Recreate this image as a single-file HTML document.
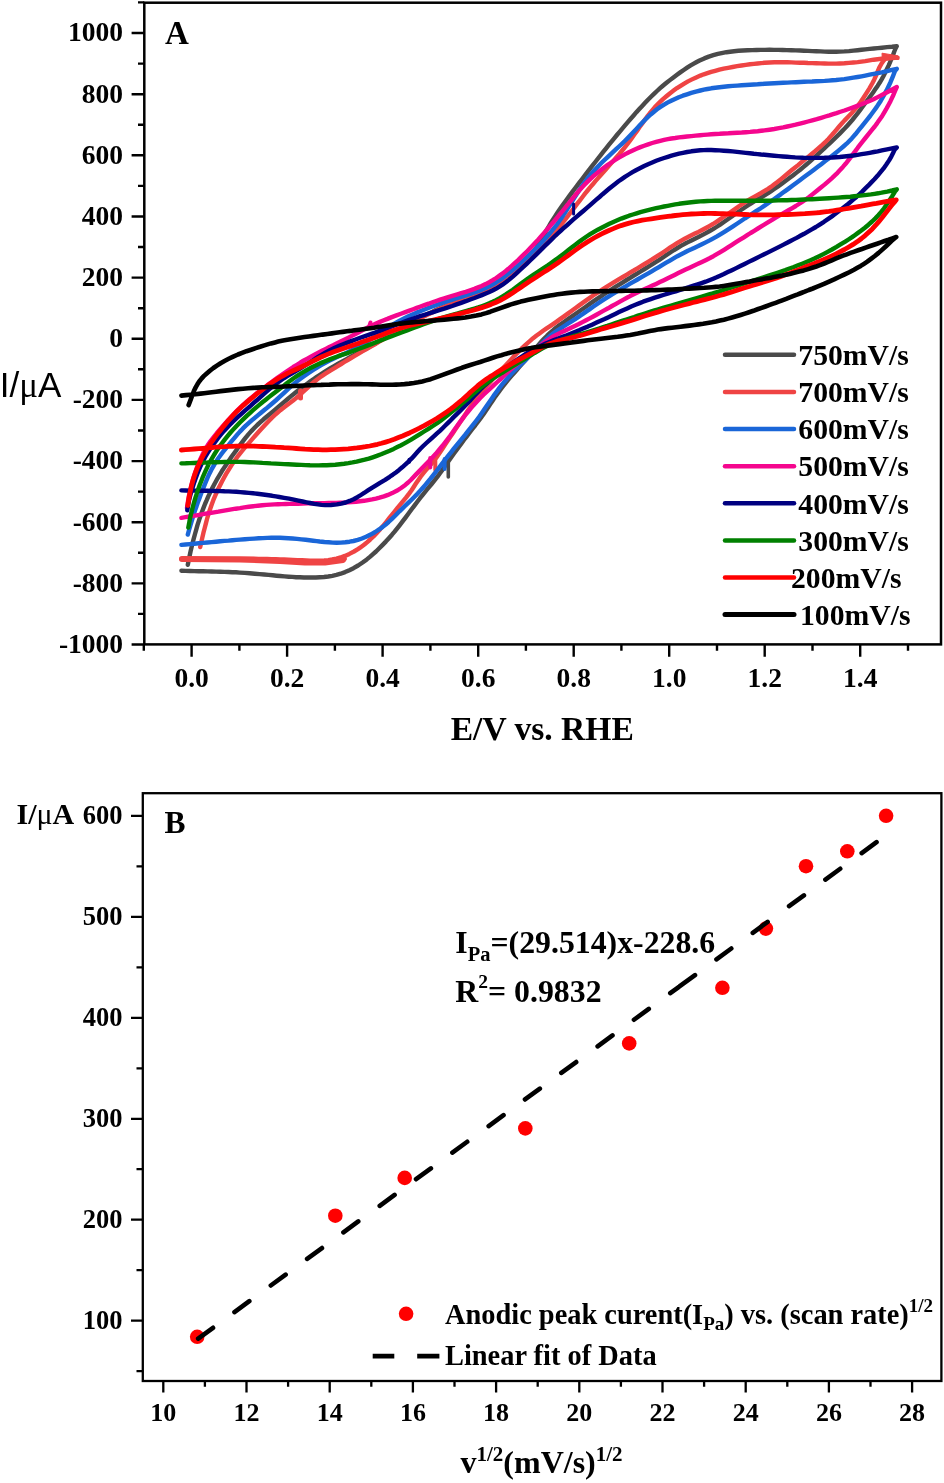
<!DOCTYPE html><html><head><meta charset="utf-8"><style>html,body{margin:0;padding:0;background:#fff;}svg{display:block;will-change:transform;}text{font-family:"Liberation Serif",serif;font-weight:bold;fill:#000;}</style></head><body>
<svg width="944" height="1483" viewBox="0 0 944 1483">
<rect width="944" height="1483" fill="#fff"/>
<g fill="none" stroke-linecap="round" stroke-linejoin="round">
<path d="M187.8 564.8L188.7 560.3L189.6 556L190.6 551.2L191.8 546.2L192.7 542.5L193.8 538.4L195 534L196.3 529.4L197.6 524.7L199 520.3L200.5 516.1L201.9 512L203.5 507.9L205 504L206.7 500.2L208.3 496.4L210.1 492.6L211.9 488.9L213.8 485.3L215.7 481.8L217.6 478.3L219.7 474.8L221.8 471.3L224.2 467.6L226.7 463.9L229.2 460.2L231.7 456.6L234.3 453L236.8 449.6L239.6 445.6L242.6 441.7L245.5 437.9L248.4 434.4L251.3 431.1L254.3 428L257.3 425L260.4 422.2L263.6 419.3L266.9 416.5L270.3 413.7L273.7 410.8L276.9 408.1L279.8 405.6L284 402.1L288 398.7L290.8 396.4L293.8 394L296.8 391.5L300 389L304.3 385.8L308.9 382.4L313.7 379.1L316.8 376.9L320 374.8L323.4 372.6L326.9 370.4L330.5 368.2L334.1 366.1L338.2 363.7L342.4 361.4L346.6 359.1L350.8 356.8L355.1 354.5L359 352.4L363 350.2L367.1 348L371.2 345.8L375.3 343.5L379.2 341.2L382.8 339L386.3 336.8L389.7 334.6L393.1 332.5L396.5 330.4L399.9 328.4L403.9 326.2L407.8 324.1L411.8 322L415.8 320L419.9 318L423.8 316L427.7 314.1L431.7 312.1L435.8 310.1L440.2 308.1L444.7 306.2L448.5 304.7L452.5 303.2L456.7 301.7L461.2 300.2L465.8 298.6L470.2 297.1L474.4 295.6L478.2 294.1L481.7 292.6L485.7 290.8L489.2 289L492.6 287.2L496 285.2L499.7 282.8L502.8 280.7L506 278.4L509.4 275.9L512.9 273.1L516.5 270L520.1 266.7L523.7 263.3L527 259.7L530.1 256.2L532.3 253.4L534.4 250.5L536.5 247.4L538.5 244.3L540.5 241L542.5 237.5L544.5 234L546.5 230.4L548.6 226.8L550.7 223.2L552.9 219.6L555.2 216.1L557.4 212.8L559.6 209.5L562 206.1L564.4 202.7L566.9 199.3L569.4 195.9L572 192.4L574.5 189L577.1 185.6L579.7 182.1L582.3 178.8L584.9 175.4L587.4 172.1L589.9 168.9L592.6 165.4L595.3 162L598 158.5L600.7 155.1L603.4 151.7L606.1 148.3L608.8 144.9L611.5 141.6L614.2 138.3L616.9 135L619.6 131.8L622.3 128.6L625 125.4L627.8 122.1L630.7 118.8L633.6 115.5L636.4 112.2L639.3 109L642.2 105.9L645.1 102.8L648 99.7L651 96.7L654 93.8L657 91L660.1 88.2L663.2 85.5L666.5 82.8L669.9 80.1L673.4 77.4L677 74.7L680.6 72.1L684.1 69.7L687.5 67.4L690.7 65.4L693.8 63.6L696.7 62L699.6 60.5L704.3 58.4L708.8 56.6L713.3 55.2L717.9 53.9L722.8 52.8L726.4 52.2L730.1 51.7L734.1 51.2L738.4 50.8L742.9 50.5L747.5 50.3L752.1 50.1L756.6 50L760.9 49.9L765 49.9L769.5 49.8L774 49.9L778.3 49.9L782.6 50L786.9 50.1L791.3 50.2L795.7 50.4L800.2 50.5L804.1 50.7L808.1 50.9L812.2 51.1L816.3 51.2L820.5 51.4L824.7 51.6L828.7 51.7L832.4 51.7L836.1 51.7L839.7 51.6L844.4 51.4L849 51.1L853.5 50.6L857.6 50.2L861.5 49.8L865.3 49.4L869.7 48.9L873.8 48.5L877.7 48.1L881.9 47.7L887.1 47.1L892 46.7L896.8 46.2L896 47.5L895.4 48.8L894.2 51.8L892.8 55.8L891 60L888.7 65.4L886 71L883.4 76.2L881.5 79.6L879.6 82.8L877.6 85.9L875.4 89.1L873.1 92.4L870.7 95.7L868.1 99.2L865.5 102.7L863.1 106L860.6 109.4L858 112.8L855.2 116.4L852.3 120L849.9 122.8L847.5 125.5L844.9 128.3L842.1 131.1L839.2 134.1L836.1 137.1L833 140.1L829.9 143.1L827.1 145.7L824.3 148.3L821.5 151L818.6 153.7L815.6 156.4L812.5 159.2L809.5 161.9L806.4 164.5L803.3 167.1L800.2 169.7L796.8 172.4L793.2 175.2L789.4 178.1L785.4 181.1L781.5 183.9L777.7 186.6L774.2 189L771.1 191.1L768.1 193.1L765.3 194.8L760.3 197.9L755.8 200.5L750.8 203.6L748.2 205.2L745.5 207L742.5 209L739.3 211.2L735.6 213.8L731.8 216.5L727.8 219.3L723.9 222L720.1 224.6L716.4 227L713 229.1L709.7 231L705.9 233.1L702.1 235.1L698.4 237L694.9 238.7L691.4 240.4L688 242.1L684.7 243.8L681.3 245.7L677.4 248L673.6 250.3L669.9 252.8L666.2 255.2L662.5 257.7L658.9 260.1L655.2 262.4L651.7 264.7L648.1 266.9L644.6 269L641.1 271.2L637.5 273.3L633.8 275.5L630.1 277.8L626.5 280L622.9 282.3L619.2 284.6L615.4 286.9L611.7 289.3L608 291.6L604.4 294L600.9 296.3L597.1 298.9L593.4 301.4L589.8 303.9L586.2 306.5L582.6 309L579 311.5L575.4 314L571.7 316.6L568 319.1L564.3 321.7L560.6 324.3L557 327L553.6 329.8L550.3 332.7L547.1 335.7L544 338.8L541 342.1L538.1 345.4L535.2 348.7L532.4 352L529.7 355.1L527 358.2L524.4 361.2L521.9 364L519.4 366.8L516.9 369.7L514.3 372.7L511.3 376.1L508.3 379.7L505.3 383.4L502.3 387.2L499.5 390.9L496.9 394.5L494.5 397.8L492.4 401L490.3 404.1L488.2 407.3L486 410.5L483.7 413.9L481 417.6L478.2 421.4L475.3 425.3L472.2 429.2L469.3 433L466.4 436.8L463.9 440L461.6 443.2L459.2 446.4L456.8 449.6L454.5 452.7L452.2 455.9L449.9 459.1L447.3 462.8L444.7 466.6L442.2 470.2L439.8 473.5L437.5 476.6L435.3 479.4L431.6 484L427.7 488.7L425.3 491.6L422.7 494.8L420 498.2L417.3 501.8L414.6 505.3L412 508.8L408.7 513.2L405.5 517.6L402.4 521.7L399.6 525.3L397 528.6L394.6 531.6L392 534.7L389.1 538L385.8 541.6L382.4 545.1L379 548.5L376 551.5L373 554.2L369.9 556.9L366.8 559.4L362.6 562.5L358.1 565.5L353.5 568.2L349.4 570.2L345.1 572.1L340.7 573.7L336.4 574.9L332.3 575.8L328.2 576.5L324 577L319.7 577.3L315.9 577.5L312 577.5L307.9 577.5L303.9 577.5L299.9 577.3L296.1 577.2L292.4 576.9L288.7 576.7L284.6 576.4L280.2 576L276.5 575.7L272.6 575.3L268.5 574.9L264.2 574.5L259.6 574.1L254.8 573.7L249.7 573.2L244.7 572.9L239.7 572.6L236 572.3L232.3 572.2L228.5 572L224.5 571.9L220.3 571.7L216.1 571.6L211.7 571.5L207.4 571.4L203 571.3L198.8 571.2L194.3 571.1L189.9 571L185.6 570.9L181.4 570.8" stroke="#4a4a4a" stroke-width="4.4"/>
<path d="M448.3 459L448.3 477" stroke="#4a4a4a" stroke-width="3.6"/>
<path d="M200.2 547L201.2 542.4L202.3 537.7L203.4 532.9L204.7 528L205.9 523.4L206.9 519.5L208 515.7L209.2 511.8L210.5 508L211.9 504.1L213.3 500.2L214.9 496.3L216.6 492.5L218.3 488.7L220.2 484.9L222.1 481.2L224.1 477.5L226.1 473.9L228.3 470.3L230.5 466.8L232.7 463.4L235 460.2L237.1 457.2L239.7 453.9L242.1 450.9L244.6 447.9L247.2 444.9L250.1 441.6L253.1 438.1L256.1 434.7L259.2 431.2L262.4 427.7L265.7 424.2L268.8 420.9L271.8 417.9L276 414L280.4 410.2L284.2 407.2L288.5 404L292.8 400.8L296.4 397.9L299.3 395.3L301.9 393L304.7 390.4L307.5 387.8L310.5 384.9L313.9 382L317.4 379.2L321.4 376.3L325.8 373.4L330.3 370.6L334.9 367.9L338.1 365.9L341.2 364L344.4 362L347.7 360L351.1 358L354.7 355.9L358.6 353.6L362.7 351.2L367 348.8L371.2 346.4L375.3 344L379.2 341.7L382.8 339.5L386.3 337.3L389.7 335.1L393.1 332.9L396.5 330.9L399.9 328.9L403.9 326.7L407.8 324.6L411.8 322.5L415.8 320.5L420 318.5L423.8 316.6L427.7 314.6L431.6 312.7L435.8 310.7L440.2 308.6L444.6 306.7L448.4 305.1L452.4 303.5L456.7 301.9L461.2 300.2L465.8 298.5L470.3 296.8L474.4 295.2L478.3 293.7L481.8 292.2L485.8 290.4L489.3 288.7L492.6 287L495.9 285.1L499.5 282.9L502.6 280.7L505.9 278.3L509.3 275.6L512.8 272.7L516.4 269.5L520 266.2L523.6 263L526.9 259.8L530.2 256.8L533.4 253.8L536.5 250.9L539.5 248L542.4 245L545.5 242L548.7 238.7L551.9 235.2L555.2 231.5L557.5 228.8L559.8 226.1L562.1 223.3L564.5 220.3L567 217.1L569.5 213.9L572.1 210.5L574.7 207.1L577.3 203.7L579.9 200.3L582.5 197L585 193.7L587.6 190.5L590.1 187.4L592.8 184.3L595.4 181.1L598.1 178.1L600.8 175L603.5 172L606.2 169L608.9 165.9L611.5 162.9L614.2 159.9L616.9 156.8L619.6 153.7L622.2 150.5L624.8 147.3L627.3 144.1L629.8 140.9L632.3 137.5L634.7 134.1L637.2 130.6L639.6 127.1L642.1 123.6L644.6 120.1L647.1 116.7L649.6 113.5L652.2 110.4L654.7 107.4L657.4 104.6L660.1 101.9L663.3 98.9L666.7 96L670.1 93.2L673.6 90.6L677 88.1L680.6 85.8L684.2 83.6L688 81.4L692 79.4L696.2 77.4L700.4 75.6L703.8 74.3L707.4 73.1L711.2 71.9L715.2 70.8L719.4 69.7L723.7 68.7L728.1 67.8L732.6 67L737.1 66.2L741.5 65.5L745.8 64.9L750 64.3L753.9 63.9L757.6 63.5L761.2 63.1L764.6 62.8L769.6 62.5L774.4 62.3L778.9 62.2L783.2 62.3L787.3 62.3L791.4 62.4L795.7 62.6L800.1 62.7L804 62.8L808 63L812.1 63.1L816.3 63.2L820.5 63.4L824.7 63.5L828.6 63.6L832.4 63.6L836.1 63.6L839.7 63.5L844.4 63.3L849 62.9L853.4 62.5L857.6 62.1L861.5 61.6L865.2 61.1L869.6 60.4L873.7 59.7L877.6 59.2L881.7 58.6L887.2 58L892.6 57.8L897.6 57.8L893.3 57.6L888.4 57.6L885.2 58.8L883.5 60.8L881.6 63.5L879.4 67.4L877.5 71.9L875.9 75.9L874.2 79.7L872.2 83.5L869.6 88.1L866.6 92.9L863.5 97.7L860.8 101.7L858 105.5L855.1 109.1L852.3 112.4L848.4 116.5L844.4 120.6L841.8 123.5L838.9 126.8L835.7 130.6L832.1 134.8L828.4 138.9L826.1 141.3L823.6 143.6L821 146L818 148.6L814.8 151.4L811.4 154.2L807.9 157.1L804.5 159.8L801.2 162.5L798.1 165.1L795.1 167.5L792.2 169.8L788.6 172.8L784.8 176L781 179.1L777.4 182L774 184.6L770.9 186.9L768 188.9L765 190.7L760.3 193.5L755.9 195.9L750.9 198.7L748.3 200.2L745.6 201.9L742.6 203.8L739.3 206L735.7 208.6L731.8 211.3L727.8 214.1L723.9 216.8L720 219.4L716.4 221.8L713 224L709.7 225.9L705.9 228L702.1 230L698.4 231.9L694.9 233.6L691.4 235.3L688 237L684.7 238.7L681.3 240.6L677.4 242.9L673.6 245.3L669.9 247.7L666.2 250.2L662.5 252.7L658.8 255.1L655.2 257.4L651.7 259.7L648.1 261.9L644.6 264L641 266.2L637.4 268.3L633.8 270.5L630 272.7L626.5 274.8L622.8 277L619.1 279.1L615.4 281.4L611.7 283.6L608.1 285.8L604.5 288.1L601 290.3L597.2 292.8L593.5 295.3L589.8 297.9L586.2 300.4L582.7 302.9L579.2 305.4L575.6 308L571.8 310.7L567.8 313.6L563.7 316.6L559.7 319.4L556 322.1L552.7 324.4L549.7 326.4L546.2 328.7L543.1 330.8L539.8 333.2L536.6 335.5L533.1 338.2L529.5 341.3L525.8 344.6L522.3 347.9L519.5 350.7L516.6 353.6L513.8 356.5L511.1 359.4L508.3 362.4L505.5 365.4L502.4 368.7L499.3 372L496.2 375.3L493.2 378.6L490.2 382L487.1 385.4L484.1 389L481.1 392.6L478.1 396.4L475.1 400.3L472.7 403.6L470.2 407.2L467.7 410.8L465.2 414.6L462.8 418.3L460.4 421.9L458.1 425.3L455.4 429.3L452.8 433.2L450.2 437L447.7 440.7L445.3 444.4L443.1 447.7L440.9 451L438.7 454.2L436.5 457.4L434.1 460.5L431.4 463.8L428.6 467.1L425.7 470.4L423 473.6L420.6 476.7L418.2 480.2L415.9 483.6L413.7 487L411.4 490.5L408.9 493.9L406.2 497.4L403.3 500.9L400.2 504.6L397.5 507.8L394.8 511.3L391.9 514.9L389 518.5L386.2 522L383.5 525.3L380.2 529.2L376.8 532.9L373.5 536.4L370.2 539.5L367.3 542.1L364.4 544.5L361.4 546.7L358.3 548.9L354 551.5L349.4 553.9L344.9 555.9L340.6 557.5L336.4 558.6L332.1 559.5L328.2 560.1L324.2 560.5L319.7 560.7L316.8 560.8L313.6 560.8L310.1 560.7L306.1 560.5L301.9 560.3L297.4 560.1L292.8 559.9L288.4 559.7L284.1 559.5L280 559.4L275.7 559.2L271.4 559.1L267.1 559L262.9 558.9L258.6 558.9L254.2 558.8L249.6 558.8L244.8 558.7L239.9 558.7L236.1 558.7L232.4 558.7L228.5 558.7L224.5 558.7L220.3 558.7L216 558.7L211.7 558.7L207.4 558.8L203 558.8L198.8 558.8L194.3 558.8L189.9 558.9L185.6 558.9L181.4 558.9" stroke="#ef4444" stroke-width="4.4"/>
<path d="M435.3 459L435.3 470" stroke="#ef4444" stroke-width="4.0"/>
<path d="M300.5 391L300.5 398" stroke="#ef4444" stroke-width="5.0"/>
<path d="M182 558.9L240 559.5L280 561L305 562.5L325 562.5L343 560" stroke="#ef4444" stroke-width="6.0"/>
<path d="M337 559.5L345 558.8" stroke="#ef4444" stroke-width="4.0"/>
<path d="M187.8 534.6L188.9 530.5L190.1 526.4L191.3 522.3L192.6 518L193.9 514L195.1 510.2L196.5 506.4L197.8 502.5L199.3 498.6L200.8 494.6L202.3 490.6L204 486.4L205.7 482.2L207.5 477.9L209.4 473.7L211.4 469.7L213.6 465.8L215.8 462L218.3 458.3L220.9 454.7L223.6 451.2L226.3 447.8L228.9 444.5L231.7 441.1L234.5 437.8L237.2 434.6L239.9 431.6L242.7 428.7L245.8 425.7L248.9 422.9L252 420.2L255.1 417.6L258.1 415.1L261 412.7L264 410.3L267 407.9L271.3 404.3L275.7 400.5L279.9 396.7L284.4 392.6L288.5 388.7L291.2 386.2L294 383.8L297 381.4L300.1 379L304.3 376L308.7 373L313.2 370L317.4 367.3L321.6 364.8L326.3 362.2L329.6 360.5L333.4 358.7L337.5 356.8L342.1 354.8L346.7 352.7L351.2 350.5L355.4 348.5L358.9 346.5L362.4 344.5L365.7 342.5L369 340.4L372.3 338.3L375.6 336.2L378.8 334L382.4 331.6L386 329.2L389.6 326.8L393.1 324.5L396.6 322.4L400.1 320.4L404 318.4L407.9 316.5L411.9 314.7L415.9 312.9L420.1 311.2L423.9 309.7L427.7 308.2L431.6 306.7L435.8 305.2L440.1 303.7L444.5 302.1L448.3 300.9L452.4 299.6L456.7 298.2L461.2 296.8L465.8 295.4L470.2 294L474.4 292.5L478.2 291.1L481.7 289.7L485.7 288L489.2 286.3L492.5 284.5L495.9 282.5L499.6 280.2L502.7 278.1L505.9 275.6L509.3 272.9L512.8 270L516.5 266.8L520.1 263.5L523.7 260.1L527.1 256.9L530.4 253.8L533.2 251L535.9 248.3L538.6 245.6L541.2 243L543.8 240.2L546.4 237.2L549.2 234.1L552 230.7L554.8 227.2L557.1 224.3L559.2 221.2L561.5 218L563.7 214.6L566 211L568.4 207.3L570.8 203.5L573.2 199.6L575.6 195.8L578.1 192L580.5 188.3L582.9 184.7L585.4 181.3L587.8 178.1L590.3 175L593 171.8L595.9 168.7L598.7 165.7L601.6 162.8L604.5 160L607.4 157.3L610.3 154.6L613.2 151.9L616.1 149.2L619 146.5L621.9 143.8L624.8 141L627.7 138.1L630.6 135.1L633.5 132L636.4 128.9L639.3 125.8L642.2 122.8L645.1 119.8L648 116.9L651 114.2L654 111.7L657 109.3L660.1 107.1L663.7 104.8L667.4 102.6L671.2 100.7L675 98.9L678.8 97.2L682.8 95.7L687 94.3L691.3 92.9L695.9 91.6L700.4 90.5L703.9 89.7L707.5 89L711.3 88.3L715.3 87.7L719.5 87.2L723.8 86.7L728.2 86.3L732.7 85.9L737.2 85.6L741.6 85.3L745.9 85L750 84.7L753.9 84.5L757.6 84.3L761.1 84L764.6 83.8L769.5 83.5L774.4 83.2L778.9 83L783.2 82.8L787.3 82.6L791.4 82.4L795.7 82.2L800.1 82L804 81.8L808 81.6L812.1 81.5L816.3 81.3L820.5 81.1L824.7 80.9L828.6 80.6L832.4 80.3L836.1 80L839.6 79.6L844.3 79.1L849 78.4L853.4 77.7L857.6 77L861.5 76.3L865.3 75.6L869.7 74.7L873.8 73.9L877.7 73.1L881.8 72.3L887.1 71.1L892 69.9L896.8 68.8L895.5 70.3L894.8 71.5L893 76.1L890.5 82.2L888.6 86.3L886.6 90.4L884.5 94.3L882.7 97.5L880.8 100.7L878.8 103.8L876.6 107.1L873.4 111.5L870.1 116L866.8 120.1L864 123.6L861.4 126.9L858.7 130.2L855.4 134.3L851.8 138.4L849.3 141L846.6 143.7L843.4 146.5L839.7 149.6L837.3 151.6L834.7 153.7L831.9 155.9L828.7 158.4L825.2 161.1L821.6 163.9L817.8 166.8L814 169.7L810.3 172.5L806.8 175.1L803.4 177.6L800.2 180L796.5 182.7L792.7 185.6L788.6 188.6L784.4 191.6L780.4 194.6L776.6 197.3L773.2 199.7L770.2 201.8L767.4 203.7L764.9 205.4L760.6 208.3L756.1 211.1L753.9 212.6L751.3 214.3L748.4 216.2L745.1 218.3L741.4 220.8L737.3 223.5L733 226.3L728.7 229.1L724.4 231.8L720.3 234.3L716.5 236.6L712.9 238.6L709.6 240.4L705.7 242.4L701.9 244.3L698.2 246.1L694.7 247.7L691.3 249.3L687.9 250.8L684.6 252.5L681.2 254.2L677.4 256.2L673.6 258.4L669.9 260.6L666.2 262.7L662.5 264.9L658.9 267.1L655.3 269.2L651.7 271.3L648.2 273.4L644.6 275.4L641.1 277.4L637.5 279.5L633.8 281.6L630.1 283.7L626.5 285.8L622.9 287.9L619.2 290.1L615.4 292.4L611.7 294.6L608.1 296.9L604.5 299.2L601 301.4L597.2 304L593.5 306.5L589.8 309.1L586.1 311.6L582.5 314.2L578.9 316.6L575.2 319.1L571.6 321.4L567.9 323.7L564.3 326L560.7 328.3L557.2 330.6L553.8 333L550.6 335.5L547 338.6L543.5 341.9L540.1 345.4L536.9 348.8L533.7 352.1L530.5 355.2L527.2 358.5L523.9 361.6L520.6 364.6L517.3 367.8L514 371L511.1 374L508.3 377.2L505.5 380.5L502.6 383.9L499.8 387.4L497.1 391.1L494.5 394.6L492 398.2L489.4 402L486.8 405.8L484.2 409.6L481.7 413.2L479.2 416.8L476.4 420.5L473.6 424.1L470.8 427.7L468 431.1L465.3 434.6L462.4 438.1L459.6 441.6L456.7 445.2L453.8 448.7L451 452.3L448.3 455.7L445.6 459.2L442.5 463.1L439.5 467.1L436.5 471L433.5 474.9L430.5 478.7L428 481.7L425.4 484.8L422.9 487.7L420.3 490.6L417.7 493.5L415 496.3L411.8 499.5L408.5 502.7L405.3 505.7L402.3 508.6L399.5 511.3L395.4 515.5L391.4 519.4L388.6 522L385.7 524.5L382.7 526.9L379.5 529.2L375.2 532L370.6 534.6L366.1 536.8L361.9 538.5L357.8 539.9L353.5 541L349.6 541.7L345.3 542.3L341 542.6L336.7 542.7L332.7 542.6L328.7 542.3L324.4 542L319.7 541.5L316.6 541.1L313.2 540.7L309.5 540.3L305.6 539.8L301.4 539.4L297 538.9L292.6 538.5L288.3 538.2L284.1 538L280.1 537.8L275.7 537.8L271.4 537.8L267.2 537.9L262.9 538.1L258.6 538.3L254.2 538.6L249.6 538.9L244.8 539.3L239.9 539.6L236.2 539.9L232.4 540.2L228.5 540.6L224.5 540.9L220.3 541.3L216 541.7L211.7 542.1L207.4 542.5L203 542.9L198.8 543.3L194.3 543.7L189.9 544.1L185.6 544.5L181.4 544.9" stroke="#1a66d8" stroke-width="4.4"/>
<path d="M444.6 459L444.6 469" stroke="#1a66d8" stroke-width="4.0"/>
<path d="M187 508L187.6 503.7L188.3 499.3L189.1 494.9L190.1 490.7L191 486.7L192.2 482.3L193.4 477.9L194.9 473.2L196.6 468.4L198.4 463.9L200.1 459.7L202 455.7L203.9 451.8L205.9 448.3L208.2 444.5L210.6 441L213.3 437.5L216.9 433L220.8 428.5L223.2 425.7L225.8 422.8L228.5 419.7L231.3 416.7L234 413.7L237.1 410.6L240.2 407.6L243.4 404.6L246.7 401.7L249.9 398.9L253.3 396.1L256.8 393.3L260.4 390.5L263.9 387.9L267.1 385.4L270.3 383.1L273.4 380.8L276.7 378.4L280 376L283.2 373.8L286.5 371.6L289.9 369.3L293.3 367L296.9 364.8L300.5 362.5L303.9 360.5L307.4 358.6L310.9 356.6L314.5 354.7L318.3 352.7L322 350.8L325.8 348.9L329.4 347L333.2 345.2L337.1 343.2L341.1 341.3L344.9 339.4L348.5 337.6L351.8 335.9L354.9 334.3L358.8 332.2L362.3 330.3L366 328.4L370.2 326.2L373 324.9L376 323.5L379.4 322.1L383.2 320.5L387.4 318.9L391.8 317.1L396.4 315.4L400.9 313.7L405.3 312.1L409.4 310.6L413.2 309.2L416.7 307.9L419.9 306.7L424.4 305.1L428.6 303.7L432.5 302.3L436.2 301L440.1 299.7L444.3 298.4L448.2 297.1L452.3 295.9L456.6 294.6L461.2 293.2L465.8 291.8L470.2 290.3L474.4 288.9L478.1 287.4L481.6 286L485.6 284.1L489.3 282.2L492.7 280.2L496.2 278L499.9 275.4L502.7 273.4L505.5 271.2L508.4 268.8L511.5 266.1L514.7 263.2L517.9 260.3L521.1 257.2L524.2 254.2L527.2 251.2L530 248.3L532.9 245.3L535.7 242.3L538.4 239.4L541 236.4L543.7 233.4L546.4 230.3L549.2 227L552.1 223.6L555 220.2L557.5 217.2L559.9 214.2L562.5 211.1L565.1 207.8L567.8 204.5L570.5 201L573.3 197.6L576.1 194.2L578.9 190.9L581.7 187.7L584.5 184.8L587.3 181.9L590 179.3L593.4 176.2L596.8 173.3L600.3 170.4L603.8 167.7L607.4 165.1L610.9 162.7L614.4 160.4L618 158.2L621.6 156.1L625.2 154.1L628.9 152.2L632.7 150.4L636.5 148.7L640.4 147.1L644.2 145.7L648.2 144.3L652.2 143L656.2 141.9L660.3 140.8L664.1 139.9L667.8 139.2L671.4 138.5L675.2 138L679 137.4L682.9 137L687 136.5L691.3 136.1L695.7 135.6L700.1 135.2L703.7 134.9L707.4 134.6L711.3 134.3L715.3 134L719.6 133.8L723.9 133.5L728.4 133.3L732.8 133L737.3 132.7L741.7 132.5L746 132.2L750.1 131.9L753.9 131.5L757.6 131.2L761.1 130.8L764.5 130.4L769.5 129.7L774.3 129L778.9 128.2L783.2 127.4L787.3 126.5L791.4 125.6L795.6 124.7L799.9 123.6L803.9 122.6L808 121.5L812.3 120.3L816.8 119.1L821.2 117.8L825.4 116.5L829.4 115.3L833.1 114.1L836.5 113.1L839.7 112L844.4 110.5L848.6 109L852.6 107.6L856.6 106.1L861 104.5L865.3 102.7L869.5 101L873.5 99.2L877.7 97.1L881.9 95L886.1 92.8L891.8 89.7L896.8 87L896 88.7L895.5 90L893.5 94.7L890.6 100.9L888.6 104.7L886.6 108.4L884.6 111.9L882.2 115.9L879.5 119.8L877.2 123.1L874.7 126.5L872.1 129.7L868.9 133.7L865.4 138L863.1 140.9L860.5 144.2L857.8 147.7L855.1 151.4L852.5 154.8L850.2 157.9L847.9 160.9L845.6 163.8L842.9 166.9L839.8 170.3L837.5 172.8L834.8 175.4L831.7 178.3L828.3 181.3L824.5 184.6L820.6 187.8L816.6 191L812.7 194.1L809.1 196.9L805.7 199.4L802.5 201.6L799.7 203.5L795.8 206L792.3 208.1L789 210L785.6 212L781.7 214.2L778.8 215.8L775.7 217.6L772.5 219.6L769.1 221.7L765.4 223.9L761.7 226.2L757.9 228.5L754.2 230.8L750.6 233L747.2 235.2L743.9 237.3L740 239.7L736 242.2L731.9 244.8L727.9 247.4L724.1 249.8L720.3 252.1L716.8 254.2L713.4 256.2L710 258L705.6 260.2L701.4 262.2L697.4 264.1L693.3 265.9L689.1 267.9L685.6 269.5L682 271.3L678.3 273.1L674.6 275L670.9 276.8L667.3 278.5L663.9 280.2L659.9 282.1L656.1 283.9L652.4 285.6L648.9 287.2L645.4 288.8L641.6 290.6L637.9 292.3L634.2 294.1L630.1 296.1L626.9 297.8L623.5 299.6L619.9 301.6L616 303.8L612 306L608.1 308.3L604.2 310.4L600.6 312.4L596.9 314.5L593.3 316.5L589.7 318.4L586.1 320.3L582.5 322.1L578.9 324L575.3 325.7L571.6 327.5L567.9 329.2L564.3 330.9L560.6 332.6L557.1 334.4L553.7 336.2L550.5 338.2L547 340.6L543.5 343.1L540.2 345.7L537 348.4L533.8 351L530.7 353.5L527.3 356.1L524.1 358.7L520.8 361.2L517.7 363.7L514.4 366.4L510.9 369.4L507.3 372.6L503.7 375.9L500.2 379.3L496.7 382.5L493.4 385.5L490.1 388.6L486.8 391.6L483.5 394.7L480.2 398L477.2 401.2L474.2 404.5L471.2 407.9L468.2 411.5L465.2 415.2L462.4 418.9L459.9 422.2L457.4 425.6L454.9 429L452.5 432.4L450.2 435.7L447.9 438.8L445.6 441.8L442.3 446L439 450L435.8 453.8L432.4 457.5L429.1 461L425.6 464.6L422.2 468.1L418.8 471.6L416.1 474.4L413.4 477.3L410.8 480L408.1 482.5L405.3 484.9L401.1 488L396.7 490.8L392.2 493.1L388 494.9L383.9 496.4L379.5 497.7L375.9 498.6L372.1 499.4L368.1 500.1L364 500.8L359.9 501.3L355.9 501.8L351.9 502.1L347.9 502.4L343.9 502.7L340 502.8L336.1 502.9L332.3 503L328.5 503L324.6 503.1L320.3 503.1L316.3 503.2L311.9 503.3L307.3 503.4L302.6 503.6L298 503.7L293.6 503.8L289.6 503.9L285.6 504L281.8 504.1L278.1 504.2L274.4 504.4L270.3 504.6L266.4 504.9L262.2 505.3L257.8 505.7L253.3 506.2L248.8 506.8L244.3 507.4L240 508.1L235.7 508.7L231.4 509.4L227.1 510.1L222.7 510.8L218.4 511.6L214.1 512.3L209.8 513L205.8 513.7L201.8 514.4L197.9 515.1L193.8 515.8L189.6 516.5L185.5 517.2L181.4 517.9" stroke="#f5068e" stroke-width="4.4"/>
<path d="M430.2 458L430.2 467.5" stroke="#f5068e" stroke-width="4.0"/>
<path d="M369.5 325.5L370.5 322.5" stroke="#f5068e" stroke-width="4.0"/>
<path d="M187.3 510.4L188.1 505.2L189.1 500L190.4 494.8L191.9 489.7L193.5 484.6L195.3 479.4L196.7 475.6L198.2 471.6L199.9 467.6L201.7 463.7L203.5 460.1L205.5 456.5L207.5 453.1L209.6 449.8L211.9 446.4L214.6 442.6L217.6 438.6L220.8 434.7L224 430.9L226.8 427.9L229.6 425L232.4 422.1L235.3 419.4L238.2 416.7L241.4 413.8L244.4 411.1L247.6 408.4L250.8 405.6L253.7 402.9L256.8 400.3L259.8 397.6L262.8 394.9L265.9 392.2L269.4 389.2L272.9 386.3L276.5 383.4L280.3 380.7L283.8 378.3L287.6 375.9L291.6 373.6L295.8 371.2L300 368.7L303.5 366.5L307 364.2L310.7 361.8L314.4 359.4L318.2 356.9L322 354.6L325.8 352.4L329.9 350.2L334.3 348.1L338.8 346.1L343.2 344.2L347.3 342.6L351.2 341.1L354.9 339.7L360.2 337.8L365.1 336.1L370.7 334.1L373.5 333.2L376.4 332.1L379.7 330.9L383.3 329.6L387.4 328.1L391.8 326.4L396.4 324.7L400.9 323L405.3 321.4L409.4 319.9L413.2 318.5L416.7 317.3L420 316.2L424.5 314.8L428.6 313.5L432.4 312.3L436.2 311.1L440 309.9L444.2 308.6L448 307.3L452.2 306L456.6 304.4L461.2 302.8L465.8 301.2L470.3 299.5L474.5 298L478.4 296.5L481.9 295.1L485.8 293.5L489.3 292L492.5 290.5L495.8 288.8L499.4 286.7L502.5 284.7L505.8 282.3L509.2 279.6L512.8 276.6L516.4 273.4L520 270L523.6 266.7L526.9 263.6L530.1 260.5L533.3 257.4L536.4 254.4L539.4 251.4L542.4 248.4L545.4 245.4L548.6 242.3L551.9 239.1L555.2 235.8L558.1 233.1L561 230.5L564 227.7L567.2 225L570.4 222.1L573.7 219.2L577 216.4L580.3 213.5L583.6 210.7L586.9 207.9L590.1 205.1L593.2 202.4L596.3 199.7L599.5 197L602.6 194.2L605.8 191.5L609 188.8L612.2 186.2L615.4 183.7L618.5 181.3L621.7 179.1L624.9 176.9L628.7 174.5L632.5 172.2L636.4 170L640.3 168L644.2 166L648.1 164.2L652.2 162.5L656.2 160.8L660.3 159.3L664.1 158L667.8 156.8L671.5 155.6L675.2 154.6L679 153.6L683 152.8L687.1 152L691.4 151.3L695.8 150.7L700.2 150.3L703.8 150.1L707.4 150L711.2 150L715.2 150.2L719.4 150.4L723.7 150.7L728.1 151L732.5 151.4L737 151.9L741.4 152.4L745.7 152.9L749.8 153.3L753.8 153.8L757.5 154.1L761.1 154.5L764.6 154.8L769.4 155.3L774.2 155.7L778.7 156.1L783 156.5L787.1 156.8L791.2 157.1L795.2 157.4L799.2 157.6L803.4 157.8L807.5 157.9L811.7 157.9L816 157.9L820.2 157.9L824.4 157.8L828.4 157.6L832.2 157.5L836 157.2L839.7 157L844.3 156.5L848.9 156L853.4 155.5L857.5 154.9L861.5 154.2L865.2 153.6L869.7 152.8L873.8 152L877.7 151.3L881.9 150.4L887.1 149.4L892 148.4L896.8 147.4L895.6 148.7L894.6 149.9L893.2 152.8L891.3 156.6L889.1 160.4L886.5 164.3L883.6 168.4L880.5 172.2L877.5 175.8L874.4 179.2L871.1 182.6L868.2 185.7L865.1 188.7L862.2 191.6L859.6 194L856.7 196.7L853.5 199.4L848.4 203.7L843.6 207.5L841.4 209.3L839 211.1L836.4 213L833 215.6L828.6 218.6L824 221.8L819.7 224.6L815.9 227L812.2 229.2L808.3 231.4L804.1 233.8L799.4 236.3L796.6 237.9L793.6 239.4L790.5 241L787.1 242.8L783.5 244.6L779.6 246.6L775.6 248.6L771.6 250.6L767.6 252.6L763.7 254.5L759.9 256.4L756.2 258.2L752.7 259.9L748.7 261.9L744.6 263.9L740.4 266L736.2 268.1L731.9 270.2L727.8 272.1L723.9 274L720.1 275.7L716.6 277.3L713.2 278.7L710 280L705.6 281.7L701.6 283.1L697.7 284.4L693.6 285.7L689 287.2L686 288.1L682.8 289.1L679.3 290.1L675.7 291.3L671.7 292.4L667.6 293.7L663.3 295L659 296.4L654.8 297.7L650.7 299.1L646.8 300.4L643.1 301.7L639.6 303.1L635.4 304.8L631.2 306.5L627.1 308.4L623 310.2L619 312.1L615.2 313.9L611.5 315.7L608 317.4L604.6 319L601.2 320.5L596.6 322.6L592.1 324.7L587.8 326.6L583.6 328.3L579.6 330.1L575.4 331.8L571.1 333.5L566.8 335.2L562.4 336.8L558.2 338.5L554 340.1L550 341.8L545.8 343.5L541.7 345.4L537.9 347.2L534.1 349.1L530.5 351.2L526.2 353.7L521.9 356.5L517.7 359.4L513.6 362.3L510.3 364.8L507 367.2L503.7 369.7L500.4 372.3L497.1 375L493.5 377.8L489.9 380.8L486.5 383.8L483.3 386.7L480.4 389.5L477.1 392.9L474.1 396.1L470.8 399.7L467.8 402.9L464.4 406.4L460.8 410.1L457 413.9L453.4 417.4L450.7 420.2L448 422.9L445.3 425.5L442.6 428.2L439.9 430.8L437 433.4L433.5 436.6L429.9 439.8L426.4 443L423.2 446L420.4 448.8L417.4 452.1L414.6 455.2L411.7 458.4L408.8 461.3L405.5 464.4L402.2 467.3L399.1 469.9L395.9 472.4L392.9 474.6L389.7 476.8L385.1 479.8L380 482.8L376 485.3L371.9 487.8L367.9 490.4L364.5 492.7L360.9 495L357.3 497.2L353.6 499.2L349.7 500.9L345.5 502.5L341.2 503.6L336.9 504.4L330.9 505L325.1 505.1L321.5 504.9L318 504.4L314.2 503.8L310.1 503L306.5 502.3L302.6 501.5L298.4 500.6L293.8 499.7L289 498.7L284.1 497.8L279.4 497L275.8 496.4L272.2 495.8L268.7 495.3L265 494.8L261.2 494.3L257.3 493.8L253.1 493.3L248.9 492.9L244.6 492.5L240.2 492.1L236.4 491.8L232.6 491.6L228.6 491.4L224.5 491.3L220.4 491.1L216.1 491L211.7 490.9L207.4 490.8L203.1 490.8L198.8 490.7L194.4 490.6L189.9 490.6L185.6 490.5L181.4 490.4" stroke="#000080" stroke-width="4.4"/>
<path d="M409.3 459.5L409.3 462" stroke="#000080" stroke-width="3.6"/>
<path d="M573.6 204L573.6 214" stroke="#000080" stroke-width="3.0"/>
<path d="M188.3 527.6L189.1 523.5L189.8 519.4L190.7 515.2L191.8 510.9L192.8 506.9L194 502.7L195.3 498.2L196.7 493.8L198.1 489.4L199.7 485L201.4 480.7L203.1 476.3L205.1 471.9L207.1 467.6L208.9 463.9L210.9 460.3L213 456.6L215.2 453L217.4 449.6L219.7 446.2L222.3 442.7L224.9 439.3L227.5 436.1L230.1 433L232.9 429.9L236.3 426.2L239.9 422.5L243.6 418.9L247 415.6L250.1 412.8L253 410.2L256 407.6L259.3 404.9L262.4 402.3L265.7 399.7L269.2 396.9L272.9 394L276.6 391.2L280.1 388.5L283.5 385.9L286.8 383.3L290.2 380.8L293.6 378.3L297.1 375.9L300.7 373.6L304.1 371.6L307.5 369.6L310.9 367.8L314.5 366L318.1 364.3L321.8 362.6L325.6 361L329.7 359.4L333.9 357.8L338.2 356.2L342.6 354.7L346.8 353.3L351 351.8L355 350.3L359.2 348.8L363.3 347.2L367.3 345.6L371.3 344.1L375.1 342.6L378.9 341.1L383.1 339.5L387 337.9L391.1 336.4L395.5 334.7L400.2 332.9L403.6 331.7L407.1 330.4L410.8 329L414.8 327.5L419.1 325.9L423.5 324.3L427.9 322.7L432.3 321.2L436.5 319.7L440.6 318.4L444.5 317.1L448.8 315.8L453.3 314.5L457.8 313.3L462.2 312L466.6 310.8L470.7 309.7L474.6 308.5L478.3 307.4L481.7 306.2L485.7 304.7L489.2 303.3L492.6 301.8L496 300.2L499.7 298.2L502.7 296.4L505.9 294.4L509.3 292.1L512.8 289.7L516.4 287L520 284.4L523.5 281.8L526.9 279.4L530.1 277.1L533.7 274.6L537.2 272.3L540.6 270L544 267.8L547.5 265.5L551.1 263L554.8 260.4L558.1 258L561.4 255.5L564.8 252.9L568.4 250.1L572 247.3L575.7 244.4L579.4 241.6L583 239L586.6 236.5L590.2 234.2L594 231.9L597.8 229.7L601.6 227.7L605.5 225.7L609.4 223.8L613.4 222L617.3 220.3L621.3 218.6L625.3 217.1L629.1 215.7L632.9 214.5L636.6 213.3L640.4 212.1L644.2 211.1L648.1 210.1L652.1 209.1L656.1 208.2L660.1 207.3L664 206.5L667.7 205.8L671.4 205.1L675.2 204.4L679 203.8L682.9 203.3L687 202.7L691.3 202.2L695.8 201.8L700.3 201.4L703.8 201.2L707.4 201L711.1 200.9L715 200.8L719 200.7L723.2 200.7L727.5 200.7L731.7 200.7L736.1 200.7L740.4 200.8L744.6 200.8L748.9 200.8L753 200.8L757 200.8L760.9 200.8L764.8 200.7L769.2 200.7L773.7 200.6L778.2 200.4L782.6 200.3L787.1 200.2L791.4 200L795.8 199.9L800 199.7L804.1 199.5L808.1 199.4L812 199.2L815.9 199L819.7 198.8L824.3 198.5L829.1 198.2L833.7 197.9L838.2 197.6L842.4 197.3L846.5 197L850.4 196.7L854.2 196.3L858 195.9L862.5 195.4L866.9 194.9L870.9 194.4L874.7 193.8L878.1 193.3L881.6 192.7L887.2 191.6L892.1 190.5L896.8 189.3L895.6 190.8L894.7 192L892.2 196.2L888.6 201.8L886.3 205.1L883.9 208.5L881.2 211.9L878.3 215.2L875.4 218.3L872.1 221.5L868.5 224.7L864.9 227.7L861.3 230.5L858 232.9L854.8 235.2L851.7 237.4L848.5 239.5L845.2 241.6L840.9 244.2L836.5 246.9L832 249.5L827.6 251.9L823.4 254.1L819.1 256.3L814.9 258.3L810.6 260.2L806.4 262L802.2 263.7L798 265.3L793.8 267L789.5 268.5L785.3 270.1L781 271.5L776.7 273L772.6 274.4L768.6 275.7L764.3 277.1L759.6 278.6L756.5 279.6L753.2 280.7L749.8 281.8L746.1 283L742.2 284.2L737.9 285.6L733.4 287L728.8 288.5L724.1 289.9L719.6 291.3L716.2 292.3L712.8 293.4L709.1 294.4L705.2 295.6L701.1 296.8L696.9 298L692.5 299.3L688.2 300.5L683.8 301.8L679.5 303.1L675.2 304.3L671.2 305.5L667.4 306.6L663.8 307.6L660.6 308.6L657.5 309.5L654.6 310.4L649.8 311.9L645.5 313.3L641.6 314.5L637.9 315.7L634.1 317L630 318.3L626.4 319.5L622.8 320.7L619.1 321.9L615.3 323.2L611.3 324.5L607.3 325.9L603.2 327.2L599 328.6L594.9 329.9L591 331.1L586.9 332.3L582.6 333.6L578.1 334.9L573.6 336.2L569.1 337.6L564.7 338.9L560.7 340.2L557 341.6L553.6 342.9L550.4 344.3L546 346.5L542 348.6L538.2 350.8L534.5 353L530.7 355.4L527.3 357.4L523.8 359.5L520.2 361.7L516.6 363.9L512.9 366.1L509.2 368.4L505.6 370.7L501.8 373L497.9 375.5L494 378L490.2 380.6L486.7 383L483.4 385.4L480.3 387.8L476.5 391L472.9 394.1L469.5 397.2L466.2 400L463.2 402.6L460.3 405.1L457.3 407.5L454.1 410.1L450.9 412.6L447.6 415.3L444.1 418L440.6 420.7L437.1 423.2L432.8 426L428.4 428.8L424.1 431.5L420 434.1L415.5 436.9L411.1 439.6L406.3 442.4L403.6 443.9L400.6 445.5L397.3 447.1L393.7 448.9L389.7 450.7L385.4 452.5L381.1 454.3L376.8 455.9L372.7 457.3L368.8 458.6L364.7 459.7L360.6 460.7L356.6 461.6L352.5 462.4L348.4 463.1L344.1 463.7L339.8 464.2L335.3 464.7L330.8 465L326.8 465.2L322.8 465.3L318.7 465.4L314.4 465.4L310 465.3L305.6 465.1L301.1 464.9L296.7 464.7L292.4 464.5L288.2 464.3L284.1 464.1L280.1 463.9L275.5 463.6L271 463.4L266.7 463.1L262.5 462.9L258.3 462.6L254 462.4L249.5 462.2L244.8 462L240 461.9L236.2 461.9L232.4 461.9L228.5 461.9L224.5 462L220.3 462.1L216.1 462.2L211.7 462.3L207.4 462.5L203 462.6L198.8 462.8L194.3 463L189.9 463.1L185.6 463.3L181.4 463.4" stroke="#008000" stroke-width="4.4"/>
<path d="M187.8 505.5L188.6 500.3L189.5 495L190.7 489.2L192.1 483.5L193.3 479.2L194.8 474.6L196.6 469.7L198.5 465.1L200.2 461.5L201.8 458.1L203.6 454.7L205.6 451.3L207.7 447.8L210 444.2L212.6 440.6L215.2 436.9L217.9 433.4L220.7 429.9L223.3 426.6L226 423.4L228.6 420.3L231.3 417.3L234 414.4L237.1 411.2L240.2 408.3L243.3 405.3L246.7 402.4L249.9 399.6L253.3 396.8L256.8 393.9L260.4 391.1L263.9 388.5L267.1 386L270.2 383.8L273.3 381.6L276.6 379.4L280 377.4L283.8 375.3L287.8 373.2L292 371.2L296.3 369.2L300.6 367.2L304.1 365.5L307.5 363.8L311 362L314.5 360.3L318.2 358.5L321.9 356.7L325.7 355.1L329.7 353.4L333.9 351.8L338.3 350.2L342.6 348.7L346.9 347.3L351.1 345.9L355.1 344.5L359.3 343.1L363.4 341.6L367.3 340.2L371.2 338.8L375 337.4L378.8 336L383 334.4L387.1 332.8L391.2 331.3L395.6 329.7L400.4 328.2L403.7 327.2L407.2 326.2L410.9 325.2L414.8 324.3L419.1 323.3L423.5 322.3L427.9 321.3L432.2 320.3L436.4 319.3L440.5 318.4L444.3 317.5L448.7 316.5L453.2 315.4L457.7 314.2L462.2 313.1L466.5 312L470.5 311L474.2 310L477.7 308.9L481.1 307.9L486.2 306.2L491 304.4L495.6 302.5L500.3 300.3L503.3 298.7L506.3 296.9L509.5 294.9L512.9 292.7L516.4 290.3L520 287.9L523.5 285.5L526.8 283.2L530.1 281L533.7 278.7L537.2 276.4L540.6 274.3L544 272.1L547.5 269.9L551.1 267.6L554.8 265.1L558.1 262.8L561.4 260.4L564.8 257.9L568.4 255.3L572 252.6L575.7 249.9L579.3 247.3L583 244.8L586.6 242.4L590.2 240.2L593.9 238L597.8 235.9L601.6 233.9L605.5 232L609.4 230.2L613.3 228.6L617.1 227.1L621 225.6L624.9 224.4L629.2 223.1L633.6 222L637.9 221.1L642.3 220.2L646.8 219.5L651.3 218.8L655.9 218.1L660.5 217.4L664.3 216.9L668 216.4L671.6 216L675.3 215.5L679 215.1L682.9 214.7L687 214.3L691.3 214L695.8 213.8L700.2 213.6L703.8 213.5L707.4 213.4L711.1 213.4L715 213.5L719.1 213.6L723.2 213.7L727.5 213.8L731.8 214L736.1 214.2L740.4 214.4L744.7 214.5L748.9 214.7L753 214.8L757 214.9L760.9 214.9L764.7 214.9L769.1 214.9L773.7 214.8L778.3 214.7L782.9 214.6L787.5 214.5L792 214.3L796.4 214.1L800.7 213.9L804.9 213.7L808.8 213.4L812.6 213.1L816.3 212.8L819.8 212.5L824.5 211.9L828.9 211.4L833 210.8L836.9 210.2L840.7 209.6L844.4 209L848.4 208.3L852.5 207.6L856.8 206.8L861.1 206.1L865.3 205.3L869.2 204.6L872.9 203.9L876.5 203.3L881.7 202.3L887 201.4L891.6 200.6L896.3 199.8L894.4 202.2L892.4 204.5L890.9 206.3L889.3 208.4L887.4 210.9L884.9 214.1L882 217.8L878.8 221.6L875.7 225.2L872.3 228.9L868.7 232.3L865.1 235.6L861.5 238.5L857.4 241.6L853.1 244.4L848.8 247L844.5 249.5L840.3 251.7L836.1 253.9L831.9 255.9L827.6 257.9L823.4 259.8L819.2 261.5L815 263.3L810.7 265L806.5 266.6L802.3 268.3L798.1 269.9L793.9 271.5L789.6 273.2L785.2 274.8L780.9 276.4L776.6 277.9L772.6 279.2L768.7 280.4L764.6 281.7L759.9 283.1L756.7 284.1L753.1 285.2L749.1 286.5L744.8 287.8L740.2 289.3L735.6 290.8L731.1 292.2L727 293.4L723.2 294.6L719.7 295.5L715.6 296.7L711.9 297.7L708.3 298.6L704.5 299.6L700.2 300.7L696.8 301.6L693 302.5L689 303.6L684.5 304.8L679.8 306L675 307.3L670.3 308.5L665.8 309.8L661.6 310.9L657.7 312.1L654.1 313.1L649.7 314.5L645.5 315.8L641.7 317L638 318.2L634.2 319.4L630.2 320.7L626.1 321.9L622 323.1L617.7 324.4L613.4 325.7L609.1 326.9L604.9 328.1L600.9 329.3L596.5 330.7L592.2 332L588 333.2L583.8 334.5L579.6 335.6L575.3 336.8L571.1 337.8L566.7 338.8L562.4 339.9L558.2 340.9L554.2 342.2L550.3 343.5L546.2 345.3L542.2 347.2L538.4 349.3L534.6 351.3L530.9 353.4L526.7 355.6L522.5 357.8L518.3 360L514.1 362.3L509.7 364.8L505.1 367.4L500.6 370.1L496.3 372.8L493 374.9L489.8 376.9L486.7 379L483.6 381.3L480.3 383.7L477.3 386.2L474.1 389L470.9 391.8L468 394.6L465.2 397.1L462.5 399.5L458.1 403.2L453.6 406.8L450.6 409.1L447.4 411.4L444 413.7L440.6 416L437.1 418.3L432.9 420.8L428.7 423.2L424.2 425.7L419.4 428.2L416.4 429.6L413.3 431.1L410 432.7L406.4 434.3L402.5 436L398.4 437.6L394.2 439.3L389.9 440.8L385.6 442.1L381.5 443.3L377.6 444.3L373.7 445.2L369.7 446L365.5 446.7L361.3 447.3L356.9 447.9L352.5 448.3L348.2 448.8L343.8 449.1L339.4 449.4L335.1 449.6L330.9 449.7L326.7 449.8L322.4 449.8L318.1 449.7L313.7 449.6L309.4 449.3L305 449.1L300.7 448.8L296.4 448.5L292.2 448.2L288.2 447.9L284.1 447.7L280.2 447.4L275.5 447.2L271 446.9L266.7 446.7L262.5 446.5L258.3 446.3L254 446.2L249.5 446.1L244.8 446L240 446.1L236.2 446.1L232.4 446.3L228.5 446.4L224.5 446.7L220.3 446.9L216.1 447.2L211.7 447.6L207.4 447.9L203 448.3L198.8 448.6L194.3 449L189.9 449.3L185.6 449.7L181.4 450" stroke="#ff0000" stroke-width="4.8"/>
<path d="M188.6 405.1L190.4 400.4L192.3 395.3L194 390.7L195.8 387.1L197.4 384.3L199.2 381.5L201.5 378.6L204 375.9L207 373.2L210.2 370.5L213.4 368L216.9 365.6L220.6 363.2L224.5 361L228.7 358.8L233.2 356.6L238 354.5L242.1 352.9L246.5 351.2L251.1 349.7L255.7 348.1L260 346.8L263.6 345.6L267.6 344.4L271 343.4L275 342.4L278.2 341.6L281.8 340.8L285.9 340.1L290.4 339.3L295.2 338.5L299.9 337.8L304.6 337.1L308.9 336.5L313.3 335.9L317.9 335.3L322.6 334.6L327.4 334L331.8 333.4L335.9 332.8L339.6 332.3L342.7 331.9L346.9 331.3L350.5 330.9L354.4 330.3L359.3 329.7L364.6 329L370.4 328.2L374 327.7L377.7 327.1L381.7 326.4L386 325.7L390.7 325L395.6 324.3L400.3 323.6L404 323.2L407.8 322.7L411.9 322.4L416.1 322L420.6 321.6L425.1 321.2L429.4 320.9L433.5 320.6L437.3 320.3L440.8 320L444.2 319.7L449 319.2L453.5 318.8L457.6 318.4L461.4 318L465.3 317.5L470.9 316.6L476.3 315.6L481.5 314.4L486 313.1L490.4 311.7L494.7 310.2L500.4 308.1L506.4 306L511 304.4L515.8 303L520.7 301.6L524.4 300.7L528.4 299.8L532.3 299L536.2 298.2L539.8 297.5L544.9 296.5L550.1 295.5L553.7 294.9L557.6 294.3L561.9 293.7L566.5 293.1L571.2 292.6L575.6 292.2L579.8 291.9L583.9 291.7L588 291.5L592.2 291.4L596.5 291.3L600.9 291.2L604.9 291.1L609 291.1L613.1 291L617.3 291L621.5 290.9L625.8 290.8L630 290.8L634.2 290.7L638.4 290.6L642.5 290.5L646.8 290.4L651.1 290.3L655.6 290.1L660.2 290L663.9 289.8L667.9 289.6L672 289.5L676.3 289.3L680.7 289L685 288.8L689.1 288.6L693 288.4L696.6 288.2L700 288L704.3 287.8L708.3 287.5L712 287.2L715.7 286.9L719.7 286.5L723.6 285.9L727.7 285.3L732 284.6L736.5 283.8L741.3 282.9L746.1 282L749.7 281.4L753.3 280.7L757.1 280.1L761.2 279.4L765.5 278.6L769.8 277.9L774.1 277.1L778.3 276.3L782.2 275.5L786 274.8L789.6 274L794.3 272.8L799.1 271.6L803.8 270.4L808.2 269.1L812.3 267.8L816.3 266.5L820 265.2L824.2 263.5L828.1 261.9L831.9 260.3L835.6 258.7L839.3 257.2L843 255.7L846.8 254.3L850.5 252.9L854.3 251.6L858.1 250.3L861.9 249L865.7 247.6L869.5 246.3L873.3 245L877.1 243.7L880.8 242.4L884.7 241L888.6 239.7L892.5 238.3L896.3 237L894.1 238.7L891.9 240.6L889.1 243.3L885.7 246.5L882 249.9L878.6 252.9L874.8 256L871 258.9L867.3 261.6L864 263.8L860.7 265.9L857.4 267.8L854 269.7L849.2 272.2L844.2 274.6L839.1 277L834.1 279.4L829.1 281.6L824 283.9L820.4 285.4L816.7 286.9L812.8 288.5L808.8 290L804.7 291.7L801.2 293L797.8 294.4L794.3 295.7L790.5 297.2L786.2 298.9L781.6 300.6L778.7 301.7L775.7 302.8L772.5 303.9L769.1 305.2L765.5 306.5L761.6 307.9L757.5 309.3L753.4 310.8L749.1 312.2L744.9 313.6L740.6 315L736.3 316.3L732.1 317.5L728 318.6L723.9 319.7L720 320.6L716 321.5L711.9 322.3L707.6 323L703.1 323.8L698.6 324.4L694.1 325L689.5 325.6L685 326.1L680.5 326.7L676.1 327.2L671.9 327.7L668 328.1L664.3 328.6L660.9 329.1L657.7 329.6L654.5 330.2L649.7 331.1L645.4 332L641.5 332.8L637.8 333.6L634.1 334.3L630.2 335L626.2 335.6L622 336.2L617.7 336.8L613.4 337.3L609.2 337.7L605 338.2L600.9 338.7L596.5 339.2L592 339.8L587.7 340.3L583.6 340.9L579.7 341.4L575.9 341.9L570 342.7L564.5 343.4L559.4 344.1L555.4 344.6L551.7 345.1L547.7 345.6L543.8 346.1L539.6 346.7L535.2 347.3L530.9 348.1L526.6 348.8L522.4 349.7L518.2 350.7L514 351.7L509.8 352.8L505.5 353.9L501.3 355.2L497 356.4L492.8 357.8L488.5 359.2L484.2 360.6L480.2 362L475.6 363.4L471.1 364.8L466.4 366.3L461.9 367.8L457.2 369.5L452.3 371.3L447.4 373.2L443.3 374.7L439.2 376.2L435 377.7L430.7 379.2L426.2 380.4L422.2 381.4L418.1 382.3L413.9 383L409.3 383.6L404.5 384.1L399.5 384.5L396 384.6L392.4 384.7L388.7 384.8L384.7 384.7L380.6 384.7L376.3 384.5L372 384.4L367.7 384.3L363.4 384.2L359.1 384.1L355 384.1L350.9 384.1L346.6 384.2L342.3 384.2L338 384.3L333.6 384.4L329.3 384.6L325.1 384.7L321 384.9L317 385L313.2 385.2L309.4 385.3L304.6 385.5L299.5 385.8L294.2 386L289.1 386.3L284.6 386.5L280.6 386.7L277.3 386.8L274.6 386.9L271.5 387L268.3 387.1L265.5 387.2L262.1 387.3L258 387.6L253.2 387.9L248.1 388.3L243 388.7L238.2 389.1L233.7 389.6L229.5 390.1L225.1 390.6L220.6 391.1L216.1 391.7L211.8 392.2L207.8 392.7L204 393.2L200.5 393.6L195.3 394.2L190.3 394.7L186 395.1L181.4 395.6" stroke="#000000" stroke-width="4.6"/>
</g>
<path d="M882 53.2L897.8 55.8L898.8 59.2L882.4 60.6Z" fill="#ef4444" stroke="#ef4444" stroke-width="1" stroke-linejoin="round"/>
<path d="M131.6 644.5H144.3M131.6 583.4H144.3M131.6 522.2H144.3M131.6 461.1H144.3M131.6 399.9H144.3M131.6 338.8H144.3M131.6 277.6H144.3M131.6 216.5H144.3M131.6 155.3H144.3M131.6 94.2H144.3M131.6 33H144.3M138 613.9H144.3M138 552.8H144.3M138 491.6H144.3M138 430.5H144.3M138 369.3H144.3M138 308.2H144.3M138 247H144.3M138 185.9H144.3M138 124.7H144.3M138 63.6H144.3M138 2.4H144.3M191.6 644.4V656.8M287.1 644.4V656.8M382.6 644.4V656.8M478.2 644.4V656.8M573.7 644.4V656.8M669.2 644.4V656.8M764.7 644.4V656.8M860.2 644.4V656.8M143.8 644.4V650.8M239.4 644.4V650.8M334.9 644.4V650.8M430.4 644.4V650.8M525.9 644.4V650.8M621.4 644.4V650.8M717 644.4V650.8M812.5 644.4V650.8M908 644.4V650.8" stroke="#000" stroke-width="2.4" fill="none"/>
<rect x="144.3" y="2.7" width="796.7" height="641.7" fill="none" stroke="#000" stroke-width="2.5"/>
<text x="123.1" y="652.8" text-anchor="end" font-size="27.5">-1000</text><text x="123.1" y="591.6" text-anchor="end" font-size="27.5">-800</text><text x="123.1" y="530.5" text-anchor="end" font-size="27.5">-600</text><text x="123.1" y="469.4" text-anchor="end" font-size="27.5">-400</text><text x="123.1" y="408.2" text-anchor="end" font-size="27.5">-200</text><text x="123.1" y="347.1" text-anchor="end" font-size="27.5">0</text><text x="123.1" y="285.9" text-anchor="end" font-size="27.5">200</text><text x="123.1" y="224.8" text-anchor="end" font-size="27.5">400</text><text x="123.1" y="163.6" text-anchor="end" font-size="27.5">600</text><text x="123.1" y="102.5" text-anchor="end" font-size="27.5">800</text><text x="123.1" y="41.3" text-anchor="end" font-size="27.5">1000</text><text x="191.6" y="686.6" text-anchor="middle" font-size="27.5">0.0</text><text x="287.1" y="686.6" text-anchor="middle" font-size="27.5">0.2</text><text x="382.6" y="686.6" text-anchor="middle" font-size="27.5">0.4</text><text x="478.2" y="686.6" text-anchor="middle" font-size="27.5">0.6</text><text x="573.7" y="686.6" text-anchor="middle" font-size="27.5">0.8</text><text x="669.2" y="686.6" text-anchor="middle" font-size="27.5">1.0</text><text x="764.7" y="686.6" text-anchor="middle" font-size="27.5">1.2</text><text x="860.2" y="686.6" text-anchor="middle" font-size="27.5">1.4</text>
<text x="542.3" y="740.3" text-anchor="middle" font-size="33.6">E/V vs. RHE</text>
<text x="165" y="43.6" font-size="33">A</text>
<text x="-0.3" y="396.9" font-size="35" style="font-family:'Liberation Sans',sans-serif;font-weight:normal">I/<tspan style="font-family:'Liberation Serif',serif">μ</tspan>A</text>
<line x1="725" y1="354.8" x2="794" y2="354.8" stroke="#4a4a4a" stroke-width="4.5" stroke-linecap="round"/>
<text x="798.3" y="365" font-size="29.7">750mV/s</text>
<line x1="725" y1="391.9" x2="794" y2="391.9" stroke="#ef4444" stroke-width="4.5" stroke-linecap="round"/>
<text x="798.3" y="402.1" font-size="29.7">700mV/s</text>
<line x1="725" y1="429" x2="794" y2="429" stroke="#1a66d8" stroke-width="4.5" stroke-linecap="round"/>
<text x="798.3" y="439.2" font-size="29.7">600mV/s</text>
<line x1="725" y1="466.2" x2="794" y2="466.2" stroke="#f5068e" stroke-width="4.5" stroke-linecap="round"/>
<text x="798.3" y="476.4" font-size="29.7">500mV/s</text>
<line x1="725" y1="503.3" x2="794" y2="503.3" stroke="#000080" stroke-width="4.5" stroke-linecap="round"/>
<text x="798.3" y="513.5" font-size="29.7">400mV/s</text>
<line x1="725" y1="540.4" x2="794" y2="540.4" stroke="#008000" stroke-width="4.5" stroke-linecap="round"/>
<text x="798.3" y="550.6" font-size="29.7">300mV/s</text>
<line x1="725" y1="577.5" x2="794" y2="577.5" stroke="#ff0000" stroke-width="4.5" stroke-linecap="round"/>
<text x="791.0" y="587.7" font-size="29.7">200mV/s</text>
<line x1="725" y1="614.6" x2="794" y2="614.6" stroke="#000000" stroke-width="5" stroke-linecap="round"/>
<text x="800.0" y="624.8" font-size="29.7">100mV/s</text>
<path d="M131 1320.7H142.8M131 1219.7H142.8M131 1118.8H142.8M131 1017.8H142.8M131 916.9H142.8M131 815.9H142.8M136.5 1371.1H142.8M136.5 1270.2H142.8M136.5 1169.2H142.8M136.5 1068.3H142.8M136.5 967.3H142.8M136.5 866.4H142.8M163.3 1381V1392.6M246.5 1381V1392.6M329.7 1381V1392.6M412.9 1381V1392.6M496.1 1381V1392.6M579.3 1381V1392.6M662.5 1381V1392.6M745.7 1381V1392.6M828.9 1381V1392.6M912.1 1381V1392.6M204.9 1381V1386.8M288.1 1381V1386.8M371.3 1381V1386.8M454.5 1381V1386.8M537.7 1381V1386.8M620.9 1381V1386.8M704.1 1381V1386.8M787.3 1381V1386.8M870.5 1381V1386.8" stroke="#000" stroke-width="2.3" fill="none"/>
<rect x="142.8" y="793.2" width="798.6" height="587.8" fill="none" stroke="#000" stroke-width="2.3"/>
<text x="122.4" y="1328.7" text-anchor="end" font-size="26.5">100</text><text x="122.4" y="1227.7" text-anchor="end" font-size="26.5">200</text><text x="122.4" y="1126.8" text-anchor="end" font-size="26.5">300</text><text x="122.4" y="1025.8" text-anchor="end" font-size="26.5">400</text><text x="122.4" y="924.9" text-anchor="end" font-size="26.5">500</text><text x="122.4" y="823.9" text-anchor="end" font-size="26.5">600</text><text x="163.3" y="1421" text-anchor="middle" font-size="26">10</text><text x="246.5" y="1421" text-anchor="middle" font-size="26">12</text><text x="329.7" y="1421" text-anchor="middle" font-size="26">14</text><text x="412.9" y="1421" text-anchor="middle" font-size="26">16</text><text x="496.1" y="1421" text-anchor="middle" font-size="26">18</text><text x="579.3" y="1421" text-anchor="middle" font-size="26">20</text><text x="662.5" y="1421" text-anchor="middle" font-size="26">22</text><text x="745.7" y="1421" text-anchor="middle" font-size="26">24</text><text x="828.9" y="1421" text-anchor="middle" font-size="26">26</text><text x="912.1" y="1421" text-anchor="middle" font-size="26">28</text>
<text x="16.5" y="823.6" font-size="30">I/<tspan font-weight="normal">μ</tspan>A</text>
<text x="164.5" y="833" font-size="31.5">B</text>
<circle cx="197.2" cy="1336.8" r="7.3" fill="#f00"/><circle cx="335.3" cy="1215.7" r="7.3" fill="#f00"/><circle cx="404.7" cy="1177.9" r="7.3" fill="#f00"/><circle cx="525.3" cy="1128.4" r="7.3" fill="#f00"/><circle cx="629.2" cy="1043.4" r="7.3" fill="#f00"/><circle cx="722.4" cy="987.8" r="7.3" fill="#f00"/><circle cx="765.9" cy="928.6" r="7.3" fill="#f00"/><circle cx="806" cy="866.2" r="7.3" fill="#f00"/><circle cx="847.3" cy="851.3" r="7.3" fill="#f00"/><circle cx="886.1" cy="815.8" r="7.3" fill="#f00"/>
<path d="M196.3 1340.0L678.3 987.3" stroke="#000" stroke-width="4.6" stroke-dasharray="18.4 26.6" stroke-dashoffset="-2.3" stroke-linecap="round" fill="none"/>
<path d="M678.3 987.3L887 834.5" stroke="#000" stroke-width="4.6" stroke-dasharray="18.4 26.6" stroke-dashoffset="-2.3" stroke-linecap="round" fill="none"/>
<text x="455.3" y="952.8" font-size="31.8">I<tspan font-size="20.5" dy="8.4">Pa</tspan><tspan dy="-8.4">=(29.514)x-228.6</tspan></text>
<text x="455.3" y="1001.8" font-size="31.8">R<tspan font-size="19.5" dy="-14">2</tspan><tspan dy="14">= 0.9832</tspan></text>
<circle cx="406.1" cy="1313.8" r="7.3" fill="#f00"/>
<text x="445" y="1323.9" font-size="28.4">Anodic peak curent(I<tspan font-size="19" dy="6">Pa</tspan><tspan dy="-6">) vs. (scan rate)</tspan><tspan font-size="19" dy="-12">1/2</tspan></text>
<path d="M372.7 1356.1H394.3M417.2 1356.1H439.4" stroke="#000" stroke-width="4.6"/>
<text x="445" y="1365.4" font-size="28.4">Linear fit of Data</text>
<text x="460.5" y="1473" font-size="32">v<tspan font-size="21" dy="-12">1/2</tspan><tspan dy="12">(mV/s)</tspan><tspan font-size="21" dy="-12">1/2</tspan></text>
</svg></body></html>
